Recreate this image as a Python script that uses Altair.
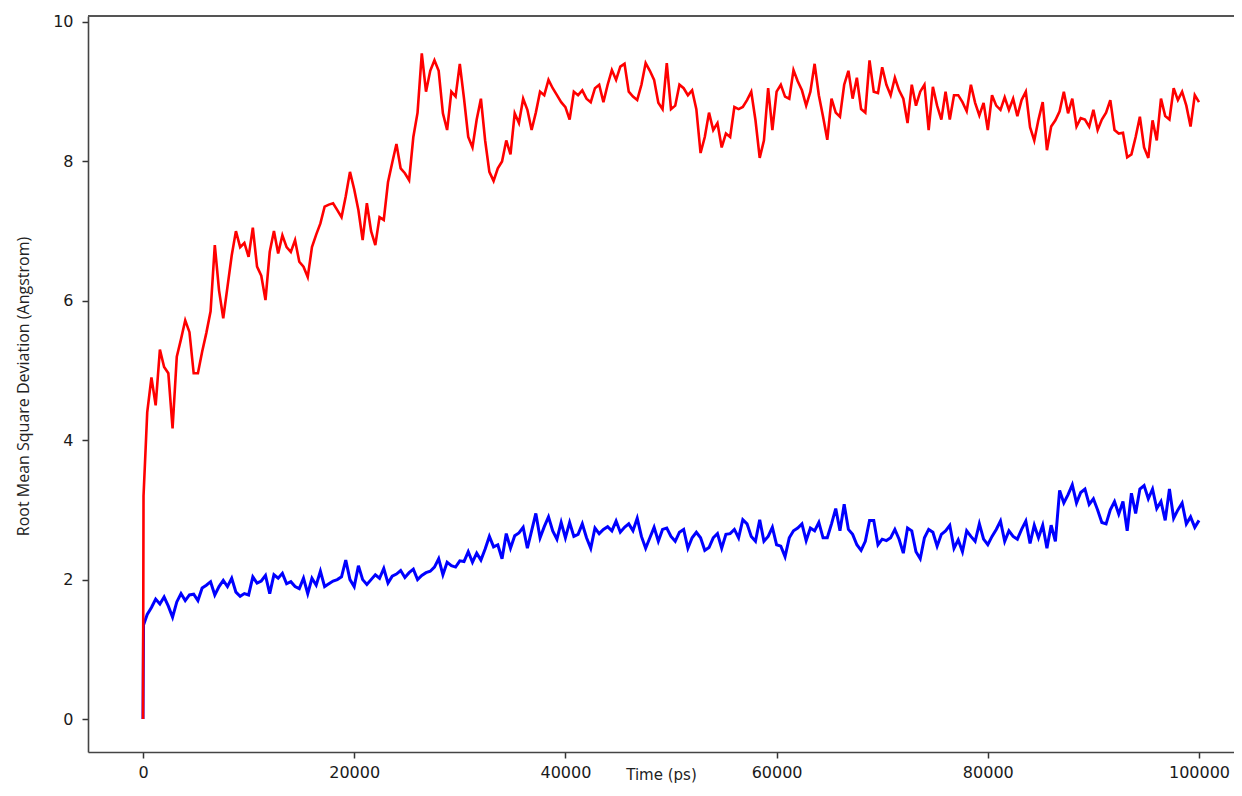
import altair as alt
import pandas as pd

# Time samples (ps)
times = [0, 50] + [400 * k for k in range(1, 251)]

# RMSD values (Angstrom)
red_rmsd = [
    0.0, 3.2,
    4.4, 4.9, 4.5, 5.3, 5.05, 4.96, 4.17, 5.2, 5.45, 5.72,
    5.55, 4.96, 4.96, 5.27, 5.54, 5.85, 6.8, 6.15, 5.75, 6.2,
    6.65, 7.0, 6.77, 6.83, 6.63, 7.05, 6.49, 6.36, 6.01, 6.7,
    7.0, 6.68, 6.94, 6.77, 6.7, 6.87, 6.56, 6.49, 6.34, 6.77,
    6.95, 7.11, 7.35, 7.38, 7.4, 7.3, 7.2, 7.5, 7.85, 7.6,
    7.3, 6.87, 7.4, 7.0, 6.8, 7.2, 7.16, 7.7, 7.98, 8.25,
    7.9, 7.83, 7.73, 8.35, 8.7, 9.55, 9.0, 9.3, 9.45, 9.3,
    8.69, 8.45, 9.0, 8.93, 9.4, 8.9, 8.35, 8.2, 8.6, 8.9,
    8.3, 7.85, 7.72, 7.9, 8.0, 8.3, 8.1, 8.69, 8.55, 8.9,
    8.74, 8.45, 8.7, 9.0, 8.95, 9.17, 9.05, 8.95, 8.85, 8.78,
    8.6, 9.0, 8.95, 9.02, 8.9, 8.85, 9.05, 9.1, 8.85, 9.1,
    9.31, 9.17, 9.36, 9.4, 9.0, 8.93, 8.88, 9.1, 9.41, 9.3,
    9.17, 8.84, 8.75, 9.41, 8.75, 8.8, 9.1, 9.05, 8.95, 9.02,
    8.75, 8.12, 8.35, 8.7, 8.45, 8.55, 8.2, 8.4, 8.35, 8.78,
    8.75, 8.78, 8.88, 9.0, 8.59, 8.05, 8.3, 9.05, 8.45, 9.0,
    9.1, 8.93, 8.9, 9.31, 9.15, 9.02, 8.8, 9.0, 9.4, 8.95,
    8.64, 8.31, 8.9, 8.7, 8.64, 9.1, 9.3, 8.9, 9.2, 8.75,
    8.7, 9.45, 9.0, 8.98, 9.35, 9.1, 8.95, 9.2, 9.02, 8.9,
    8.55, 9.1, 8.8, 9.0, 9.1, 8.45, 9.07, 8.8, 8.6, 9.0,
    8.6, 8.95, 8.95, 8.85, 8.72, 9.1, 8.84, 8.66, 8.84, 8.45,
    8.95, 8.8, 8.74, 8.92, 8.74, 8.9, 8.65, 8.88, 9.0, 8.49,
    8.3, 8.6, 8.85, 8.16, 8.5, 8.59, 8.72, 9.0, 8.69, 8.9,
    8.5, 8.62, 8.6, 8.5, 8.74, 8.45, 8.6, 8.7, 8.88, 8.45,
    8.4, 8.41, 8.06, 8.1, 8.35, 8.64, 8.2, 8.05, 8.59, 8.3,
    8.9, 8.65, 8.6, 9.05, 8.88, 9.0, 8.8, 8.5, 8.95, 8.85,
]

blue_rmsd = [
    0.0, 1.35,
    1.5, 1.6, 1.72, 1.65, 1.75, 1.62, 1.46, 1.68, 1.8, 1.7,
    1.78, 1.79, 1.7, 1.88, 1.92, 1.97, 1.78, 1.9, 1.99, 1.9,
    2.02, 1.82, 1.76, 1.8, 1.78, 2.04, 1.95, 1.98, 2.06, 1.8,
    2.07, 2.02, 2.09, 1.94, 1.97, 1.9, 1.87, 2.02, 1.8, 2.02,
    1.92, 2.12, 1.9, 1.94, 1.98, 2.0, 2.04, 2.28, 2.0, 1.9,
    2.2, 2.0, 1.93, 2.0, 2.07, 2.02, 2.16, 1.95, 2.05, 2.08,
    2.13, 2.03, 2.1, 2.15, 2.0, 2.06, 2.1, 2.12, 2.18, 2.3,
    2.07, 2.25, 2.2, 2.18, 2.27, 2.26, 2.4, 2.25, 2.38, 2.28,
    2.44, 2.62, 2.47, 2.5, 2.3, 2.66, 2.45, 2.63, 2.67, 2.75,
    2.45, 2.7, 2.95, 2.6, 2.76, 2.9, 2.7, 2.58, 2.82, 2.6,
    2.82, 2.62, 2.65, 2.8, 2.6, 2.45, 2.74, 2.66, 2.72, 2.76,
    2.7, 2.84, 2.68, 2.75, 2.8, 2.7, 2.88, 2.62, 2.45, 2.6,
    2.75, 2.55, 2.72, 2.74, 2.62, 2.55, 2.68, 2.72, 2.45, 2.6,
    2.68, 2.6, 2.42, 2.46, 2.6, 2.66, 2.45, 2.65, 2.66, 2.72,
    2.6, 2.86, 2.8, 2.62, 2.55, 2.86, 2.55, 2.62, 2.75, 2.5,
    2.48, 2.33, 2.6, 2.7, 2.74, 2.8, 2.56, 2.74, 2.7, 2.82,
    2.6, 2.6, 2.8, 3.02, 2.7, 3.08, 2.72, 2.65, 2.5, 2.42,
    2.55, 2.85, 2.85, 2.5, 2.58, 2.56, 2.6, 2.72, 2.58, 2.38,
    2.74, 2.7, 2.4, 2.3, 2.6, 2.72, 2.68, 2.48, 2.65, 2.7,
    2.78, 2.45, 2.57, 2.4, 2.7, 2.62, 2.55, 2.8, 2.58, 2.5,
    2.62, 2.72, 2.84, 2.55, 2.7, 2.62, 2.58, 2.72, 2.84, 2.52,
    2.78, 2.6, 2.78, 2.45, 2.78, 2.55, 3.28, 3.1, 3.22, 3.36,
    3.1, 3.25, 3.3, 3.08, 3.16, 3.0, 2.82, 2.8, 3.0, 3.12,
    2.94, 3.12, 2.7, 3.24, 2.95, 3.3, 3.35, 3.16, 3.3, 3.02,
    3.12, 2.85, 3.3, 2.88, 3.0, 3.1, 2.8, 2.9, 2.75, 2.85,
]

x_ticks = [0, 20000, 40000, 60000, 80000, 100000]
y_ticks = [0, 2, 4, 6, 8, 10]

W, H = 1146, 736

red_df = pd.DataFrame({"time": times, "rmsd": red_rmsd})
blue_df = pd.DataFrame({"time": times, "rmsd": blue_rmsd})

x_enc = alt.X(
    "time:Q",
    scale=alt.Scale(domain=[-5208, 103314], nice=False, zero=False),
    axis=alt.Axis(
        values=x_ticks, format="d", title="Time (ps)", grid=False,
        titleY=27, titleBaseline="alphabetic", titleFont="DejaVu Sans",
        titleFontSize=15, titleFontWeight="normal", titleColor="#222",
    ),
)
y_enc = alt.Y(
    "rmsd:Q",
    scale=alt.Scale(domain=[-0.473, 10.086], nice=False, zero=False),
    axis=alt.Axis(
        values=y_ticks, title="Root Mean Square Deviation (Angstrom)", grid=False,
        titleFont="Open Sans", titleFontSize=16, titleFontWeight="normal",
        titleColor="#222", titleAngle=270, titleX=-65, titleY=H / 2 + 2,
        titleAlign="center", titleBaseline="middle",
    ),
)

blue = alt.Chart(blue_df).mark_line(color="#0000ff", strokeWidth=3.0).encode(x=x_enc, y=y_enc)
red = alt.Chart(red_df).mark_line(color="#ff0000", strokeWidth=2.6).encode(x=x_enc, y=y_enc)

top_spine = alt.Chart(pd.DataFrame({"a": [0]})).mark_rule(
    color="#555555", strokeWidth=2
).encode(x=alt.value(0), x2=alt.value(W), y=alt.value(0))

chart = (
    alt.layer(blue, red, top_spine)
    .properties(
        width=W,
        height=H,
        autosize=alt.AutoSizeParams(type="none"),
        padding={"left": 80, "top": 8, "right": 0, "bottom": 33},
        background="white",
    )
    .configure_view(stroke=None)
    .configure_axis(
        domainColor="#444444",
        domainWidth=1.6,
        tickColor="#333333",
        tickWidth=1.5,
        tickSize=6,
        labelFont="DejaVu Sans",
        labelFontSize=16,
        labelColor="#1a1a1a",
        labelPadding=6,
    )
    .configure_axisY(labelPadding=9)
)

chart.save("out.html", embed_options={"renderer": "svg", "actions": False})
